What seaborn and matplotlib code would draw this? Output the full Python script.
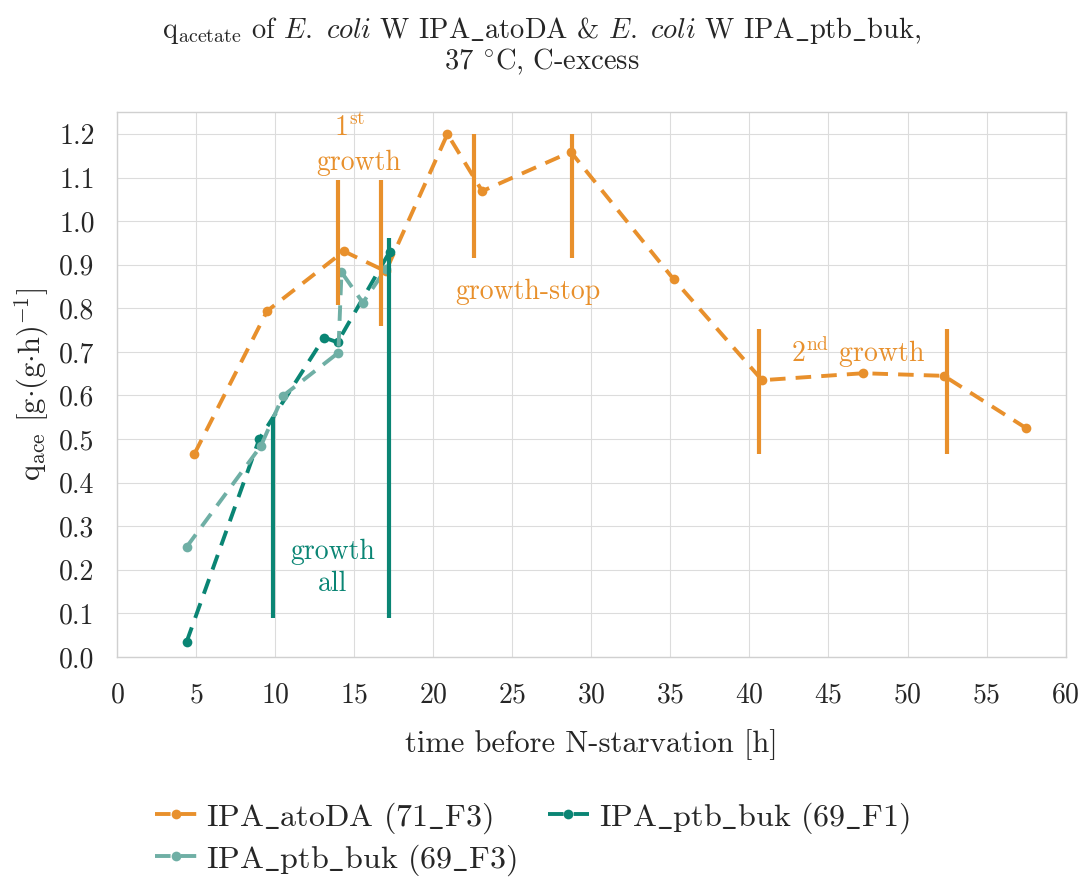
import matplotlib
matplotlib.use("Agg")
import matplotlib.pyplot as plt
import seaborn as sns
import pandas as pd

# ---- data ----
atoDA_t = [4.9, 9.5, 14.35, 17.0, 20.9, 23.1, 28.7, 35.2, 40.8, 47.2, 52.3, 57.5]
atoDA_q = [0.466, 0.794, 0.931, 0.885, 1.200, 1.069, 1.159, 0.867, 0.635, 0.651, 0.645, 0.525]

f1_t = [4.4, 9.0, 13.1, 13.95, 17.25]
f1_q = [0.034, 0.500, 0.733, 0.722, 0.930]

f3_t = [4.4, 9.1, 10.5, 14.0, 14.2, 15.55, 17.0]
f3_q = [0.252, 0.484, 0.599, 0.698, 0.883, 0.813, 0.890]

# phase marker lines (x, y_low, y_high)
orange_mark_x = [14.0, 16.7, 22.6, 28.8, 40.6, 52.5]
orange_mark_lo = [0.807, 0.760, 0.915, 0.915, 0.466, 0.466]
orange_mark_hi = [1.094, 1.094, 1.200, 1.200, 0.752, 0.752]

teal_mark_x = [9.85, 17.2]
teal_mark_lo = [0.09, 0.09]
teal_mark_hi = [0.55, 0.962]

legend_labels = [r"IPA$\_$atoDA (71$\_$F3)", r"IPA$\_$ptb$\_$buk (69$\_$F1)", r"IPA$\_$ptb$\_$buk (69$\_$F3)"]

ORANGE = "#E8902C"
TEAL = "#0A8574"
LTEAL = "#6FAFA5"

sns.set_style("whitegrid", {"grid.color": "#dcdcdc", "axes.edgecolor": "#d0d0d0"})
plt.rcParams["font.family"] = ["cmr10", "DejaVu Serif"]
plt.rcParams["mathtext.fontset"] = "cm"
plt.rcParams["axes.formatter.use_mathtext"] = True
plt.rcParams["axes.unicode_minus"] = False

fig = plt.figure(figsize=(10.83, 8.77), dpi=100)
ax = fig.add_axes([0.108, 0.251, 0.876, 0.621])

TFS = 20   # ticks
AFS = 20   # annotations
LFS = 22   # axis labels

def draw(t, q, color, label):
    df = pd.DataFrame({"t": t, "q": q})
    sns.lineplot(data=df, x="t", y="q", ax=ax, color=color, sort=False,
                 marker="o", markersize=7, markeredgewidth=0, lw=2.8,
                 dashes=False, label=label)
    ax.lines[-1].set_dashes((4, 2.6))

draw(atoDA_t, atoDA_q, ORANGE, legend_labels[0])
draw(f1_t, f1_q, TEAL, legend_labels[1])
draw(f3_t, f3_q, LTEAL, legend_labels[2])

ax.vlines(orange_mark_x, orange_mark_lo, orange_mark_hi, colors=ORANGE, lw=3)
ax.vlines(teal_mark_x, teal_mark_lo, teal_mark_hi, colors=TEAL, lw=3)

ax.set_xlim(0, 60)
ax.set_ylim(0, 1.25)
ax.set_xticks(range(0, 61, 5))
ax.set_yticks([i / 10 for i in range(0, 13)])
ax.set_yticklabels([f"{i/10:.1f}" for i in range(0, 13)])
ax.tick_params(labelsize=TFS, length=0)
ax.tick_params(axis="y", pad=16)
ax.tick_params(axis="x", pad=18)
for s in ax.spines.values():
    s.set_linewidth(1)

ax.set_xlabel("time before N-starvation [h]", fontsize=LFS, labelpad=15)
ax.set_ylabel(r"q$_{\mathrm{ace}}$ [g$\cdot$(g$\cdot$h)$^{\mathrm{-1}}$]", fontsize=LFS, labelpad=6)

fig.text(0.5, 0.965, r"q$_{\mathrm{acetate}}$ of $\mathit{E.\ coli}$ W IPA$\_$atoDA & $\mathit{E.\ coli}$ W IPA$\_$ptb$\_$buk,",
         ha="center", va="center", fontsize=20.5)
fig.text(0.5, 0.930, r"37 $^{\circ}$C, C-excess", ha="center", va="center", fontsize=20.5)

ax.text(14.7, 1.213, r"1$^{\mathrm{st}}$", color=ORANGE, ha="center", va="center", fontsize=AFS)
ax.text(15.3, 1.133, "growth", color=ORANGE, ha="center", va="center", fontsize=AFS)
ax.text(26.0, 0.837, "growth-stop", color=ORANGE, ha="center", va="center", fontsize=AFS)
ax.text(46.9, 0.70, r"2$^{\mathrm{nd}}$ growth", color=ORANGE, ha="center", va="center", fontsize=AFS)
ax.text(13.65, 0.241, "growth", color=TEAL, ha="center", va="center", fontsize=AFS)
ax.text(13.65, 0.167, "all", color=TEAL, ha="center", va="center", fontsize=AFS)

h, l = ax.get_legend_handles_labels()
ax.legend([h[0], h[2], h[1]], [l[0], l[2], l[1]], ncol=2, loc="upper left",
          bbox_to_anchor=(0.027, -0.24), frameon=False, fontsize=23,
          handlelength=1.3, columnspacing=0.95, handletextpad=0.3,
          labelspacing=0.2, borderaxespad=0)

fig.savefig("out.png", dpi=100)
